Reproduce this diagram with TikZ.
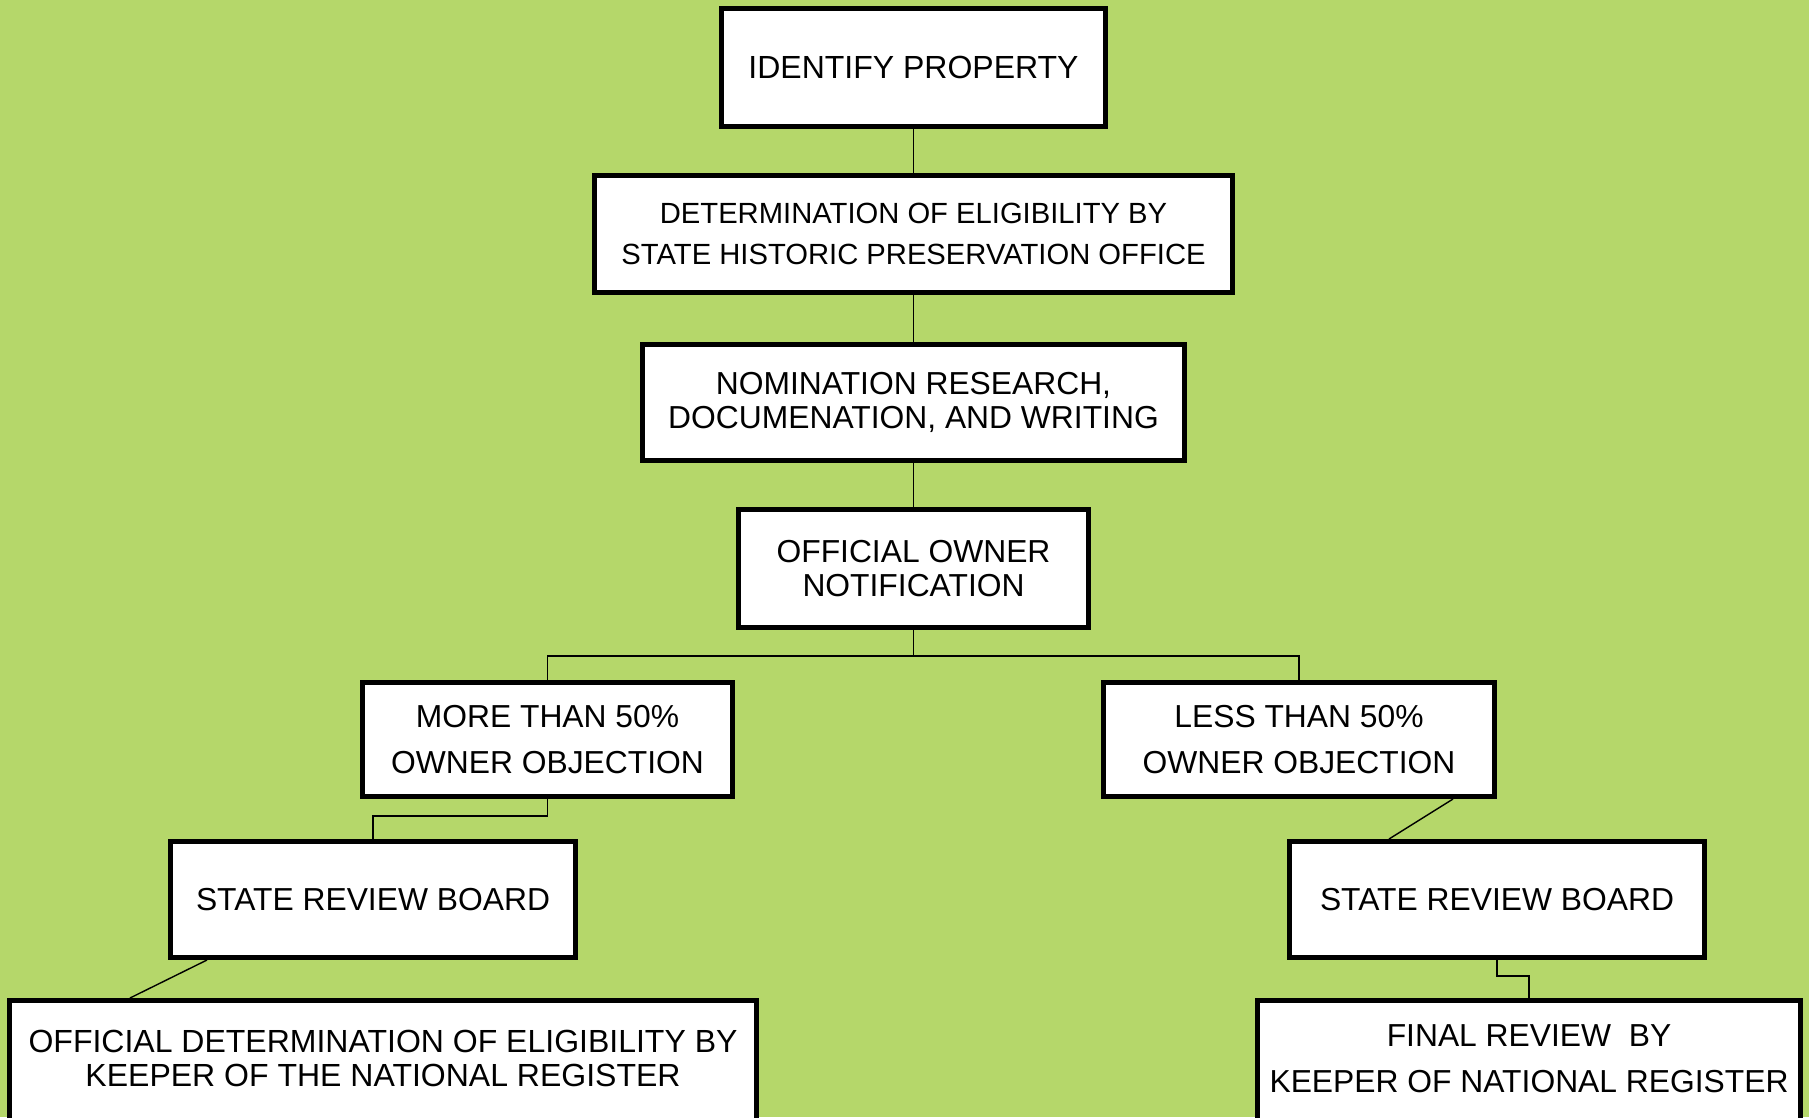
\documentclass[tikz,border=0pt]{standalone}
\usepackage{fontspec}
\setmainfont{Liberation Sans}
\definecolor{bggreen}{RGB}{181,215,106}
\tikzset{
  box/.style={draw=black, fill=white, line width=5pt, rectangle, align=center, inner sep=0pt,
    font={\fontsize{31.8}{34.6}\selectfont}},
  lbl/.style={align=center, inner sep=0pt},
  conn/.style={draw=black, line width=1.4pt}
}
\begin{document}
\begin{tikzpicture}[x=1pt,y=-1pt]
\useasboundingbox (0,0) rectangle (1809,1117);
\clip (0,0) rectangle (1809,1117);
\fill[bggreen] (0,0) rectangle (1809,1117);

\node[box, minimum width=384pt, minimum height=118pt, font={\fontsize{32}{36}\selectfont}] (b1) at (913.5,67.5) {IDENTIFY PROPERTY};
\node[box, minimum width=638pt, minimum height=117pt, font={\fontsize{29.2}{41.5}\selectfont}] (b2) at (913.5,234) {DETERMINATION OF ELIGIBILITY BY\\STATE HISTORIC PRESERVATION OFFICE};
\node[box, minimum width=542pt, minimum height=116pt] (b3) at (913.5,402.5) {NOMINATION RESEARCH,\\DOCUMENATION, AND WRITING};
\node[box, minimum width=350pt, minimum height=118pt] (b4) at (913.5,568.5) {OFFICIAL OWNER\\NOTIFICATION};
\node[box, minimum width=370pt, minimum height=114pt, font={\fontsize{31.8}{46}\selectfont}] (b5) at (547.5,739.5) {MORE THAN 50\%\\OWNER OBJECTION};
\node[box, minimum width=391pt, minimum height=114pt, font={\fontsize{31.8}{46}\selectfont}] (b6) at (1299,739.5) {LESS THAN 50\%\\OWNER OBJECTION};
\node[box, minimum width=405pt, minimum height=116pt] (b7) at (373,899.5) {STATE REVIEW BOARD};
\node[box, minimum width=415pt, minimum height=116pt] (b8) at (1497,899.5) {STATE REVIEW BOARD};
\node[box, minimum width=747pt, minimum height=240pt, anchor=north] (b9) at (383,998) {};
\node[box, minimum width=543pt, minimum height=240pt, anchor=north] (b10) at (1529,998) {};
\node[lbl, font={\fontsize{32}{33.5}\selectfont}] (t9) at (383,1058.4) {OFFICIAL DETERMINATION OF ELIGIBILITY BY\\KEEPER OF THE NATIONAL REGISTER};
\node[lbl, font={\fontsize{31.8}{46}\selectfont}] (t10) at (1529,1058.6) {FINAL REVIEW\ \ BY\\KEEPER OF NATIONAL REGISTER};

\coordinate (j1) at (913.5,656);
\coordinate (j2) at (547.5,816);
\coordinate (j3) at (1497,976);

\draw[conn] (b1.south) -- (b2.north);
\draw[conn] (b2.south) -- (b3.north);
\draw[conn] (b3.south) -- (b4.north);
\draw[conn] (b4.south) -- (j1) -| (b5.north);
\draw[conn] (j1) -| (b6.north);
\draw[conn] (b5.south) -- (j2) -| (b7.north);
\draw[conn] ([xshift=154pt]b6.south) -- ([xshift=-108pt]b8.north);
\draw[conn] ([xshift=-166pt]b7.south) -- ([xshift=-253pt]b9.north);
\draw[conn] (b8.south) -- (j3) -| (b10.north);
\end{tikzpicture}
\end{document}
